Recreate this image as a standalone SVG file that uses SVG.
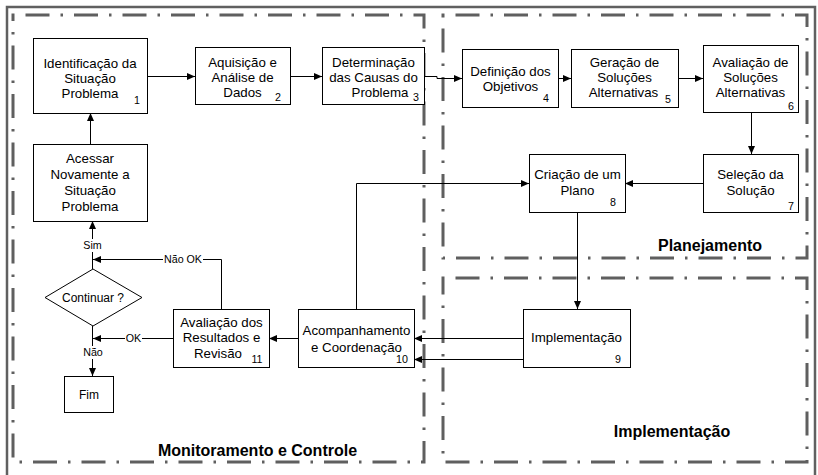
<svg xmlns="http://www.w3.org/2000/svg" width="818" height="475" viewBox="0 0 818 475">
  <defs>
    <marker id="arrow" markerUnits="userSpaceOnUse" markerWidth="8" markerHeight="8" refX="8" refY="4" orient="auto">
      <path d="M0,0.5 L8,4 L0,7.5 z" fill="#000"/>
    </marker>
    <style>
      .frame { fill: none; stroke: #606060; stroke-width: 2.5; }
      .zone { fill: none; stroke: #5f5f5f; stroke-width: 3; stroke-dasharray: 24 11 2.5 11; stroke-dashoffset: 36; }
      .box { fill: #fff; stroke: #000; stroke-width: 1; }
      .link { fill: none; stroke: #000; stroke-width: 1; marker-end: url(#arrow); }
      .t { font-family: "Liberation Sans", Arial, sans-serif; font-size: 13.3px; fill: #000; text-anchor: middle; }
      .t12 { font-family: "Liberation Sans", Arial, sans-serif; font-size: 12px; fill: #000; text-anchor: middle; }
      .num { font-family: "Liberation Sans", Arial, sans-serif; font-size: 10.7px; fill: #000; text-anchor: middle; }
      .lbl { font-family: "Liberation Sans", Arial, sans-serif; font-size: 10.7px; fill: #000; text-anchor: middle; }
      .title { font-family: "Liberation Sans", Arial, sans-serif; font-size: 16px; font-weight: bold; fill: #000; text-anchor: middle; }
    </style>
  </defs>

  <!-- outer frame -->
  <path class="frame" d="M7,475 V7 H815 V475"/>

  <!-- process zones -->
  <g id="zones">
    <rect class="zone" x="13" y="15" width="411" height="447"/>
    <rect class="zone" x="443" y="15" width="364" height="243"/>
    <rect class="zone" x="443" y="278" width="364" height="184"/>
    <text class="title" x="710" y="251">Planejamento</text>
    <text class="title" x="672" y="437">Implementação</text>
    <text class="title" x="257.5" y="456">Monitoramento e Controle</text>
  </g>

  <!-- connectors -->
  <g id="connectors">
    <path class="link" d="M147,76.5 H195"/>
    <path class="link" d="M290,76.5 H322"/>
    <path class="link" d="M424,76.5 H437 V78.5 H462"/>
    <path class="link" d="M558,78.5 H571"/>
    <path class="link" d="M678,78.5 H703"/>
    <path class="link" d="M751.5,112 V154"/>
    <path class="link" d="M703,183.5 H625"/>
    <path class="link" d="M356.5,309 V183.5 H529"/>
    <path class="link" d="M577.5,212 V309"/>
    <path class="link" d="M523,338.5 H414"/>
    <path class="link" d="M523,359.5 H414"/>
    <path class="link" d="M298,338.5 H269"/>
    <path class="link" d="M173,338.5 H93"/>
    <path class="link" d="M221.5,309 V259.5 H93"/>
    <path class="link" d="M92.5,269 V221"/>
    <path class="link" d="M92.5,326 V376"/>
    <path class="link" d="M90.5,144 V113"/>
    <!-- connector labels -->
    <rect x="163" y="253" width="40" height="13" fill="#fff"/>
    <text class="lbl" x="183" y="263">Não OK</text>
    <rect x="125" y="332" width="17" height="13" fill="#fff"/>
    <text class="lbl" x="133.5" y="342">OK</text>
    <rect x="82" y="239" width="21" height="13" fill="#fff"/>
    <text class="lbl" x="92.5" y="249">Sim</text>
    <rect x="81" y="346" width="23" height="13" fill="#fff"/>
    <text class="lbl" x="93" y="356">Não</text>
  </g>

  <g id="n1">
    <rect class="box" x="33.5" y="38.5" width="114" height="75"/>
    <text class="t" x="90" y="68">Identificação da</text>
    <text class="t" x="90" y="83">Situação</text>
    <text class="t" x="90" y="98">Problema</text>
    <text class="num" x="137" y="104">1</text>
  </g>

  <g id="n2">
    <rect class="box" x="195.5" y="47.5" width="95" height="57"/>
    <text class="t" x="242.5" y="67">Aquisição e</text>
    <text class="t" x="242.5" y="82">Análise de</text>
    <text class="t" x="242.5" y="97">Dados</text>
    <text class="num" x="278" y="101">2</text>
  </g>

  <g id="n3">
    <rect class="box" x="322.5" y="47.5" width="102" height="57"/>
    <text class="t" x="373.5" y="67">Determinação</text>
    <text class="t" x="373.5" y="82">das Causas do</text>
    <text class="t" x="380" y="97">Problema</text>
    <text class="num" x="416" y="101">3</text>
  </g>

  <g id="n4">
    <rect class="box" x="462.5" y="49.5" width="96" height="58"/>
    <text class="t" x="510.5" y="76">Definição dos</text>
    <text class="t" x="510.5" y="91">Objetivos</text>
    <text class="num" x="546" y="102">4</text>
  </g>

  <g id="n5">
    <rect class="box" x="571.5" y="49.5" width="107" height="58"/>
    <text class="t" x="624.5" y="67">Geração de</text>
    <text class="t" x="624.5" y="82">Soluções</text>
    <text class="t" x="623.5" y="97">Alternativas</text>
    <text class="num" x="668" y="103">5</text>
  </g>

  <g id="n6">
    <rect class="box" x="703.5" y="45.5" width="95" height="67"/>
    <text class="t" x="750.5" y="67">Avaliação de</text>
    <text class="t" x="750.5" y="82">Soluções</text>
    <text class="t" x="750.5" y="97">Alternativas</text>
    <text class="num" x="791" y="110">6</text>
  </g>

  <g id="n7">
    <rect class="box" x="703.5" y="154.5" width="95" height="58"/>
    <text class="t" x="750.5" y="179">Seleção da</text>
    <text class="t" x="750.5" y="195">Solução</text>
    <text class="num" x="791" y="209.5">7</text>
  </g>

  <g id="n8">
    <rect class="box" x="529.5" y="154.5" width="96" height="58"/>
    <text class="t" x="577.5" y="179">Criação de um</text>
    <text class="t" x="577.5" y="195">Plano</text>
    <text class="num" x="613" y="205.5">8</text>
  </g>

  <g id="n9">
    <rect class="box" x="523.5" y="309.5" width="107" height="58"/>
    <text class="t" x="576.5" y="342">Implementação</text>
    <text class="num" x="618" y="363">9</text>
  </g>

  <g id="n10">
    <rect class="box" x="298.5" y="309.5" width="116" height="58"/>
    <text class="t" x="356.5" y="335">Acompanhamento</text>
    <text class="t" x="356.5" y="351.5">e Coordenação</text>
    <text class="num" x="402" y="363">10</text>
  </g>

  <g id="n11">
    <rect class="box" x="173.5" y="309.5" width="96" height="58"/>
    <text class="t" x="221.5" y="327">Avaliação dos</text>
    <text class="t" x="221.5" y="342">Resultados e</text>
    <text class="t" x="218" y="357.5">Revisão</text>
    <text class="num" x="257" y="363">11</text>
  </g>

  <g id="n-acessar">
    <rect class="box" x="33.5" y="144.5" width="114" height="77"/>
    <text class="t" x="90" y="162.5">Acessar</text>
    <text class="t" x="90" y="179">Novamente a</text>
    <text class="t" x="90" y="195">Situação</text>
    <text class="t" x="90" y="211">Problema</text>
  </g>

  <g id="n-continuar">
    <polygon class="box" points="93,269 142,297.5 93,326 45,297.5"/>
    <text class="t12" x="93" y="302">Continuar ?</text>
  </g>

  <g id="n-fim">
    <rect class="box" x="64.5" y="376.5" width="49" height="36"/>
    <text class="t12" x="89" y="399">Fim</text>
  </g>
</svg>
